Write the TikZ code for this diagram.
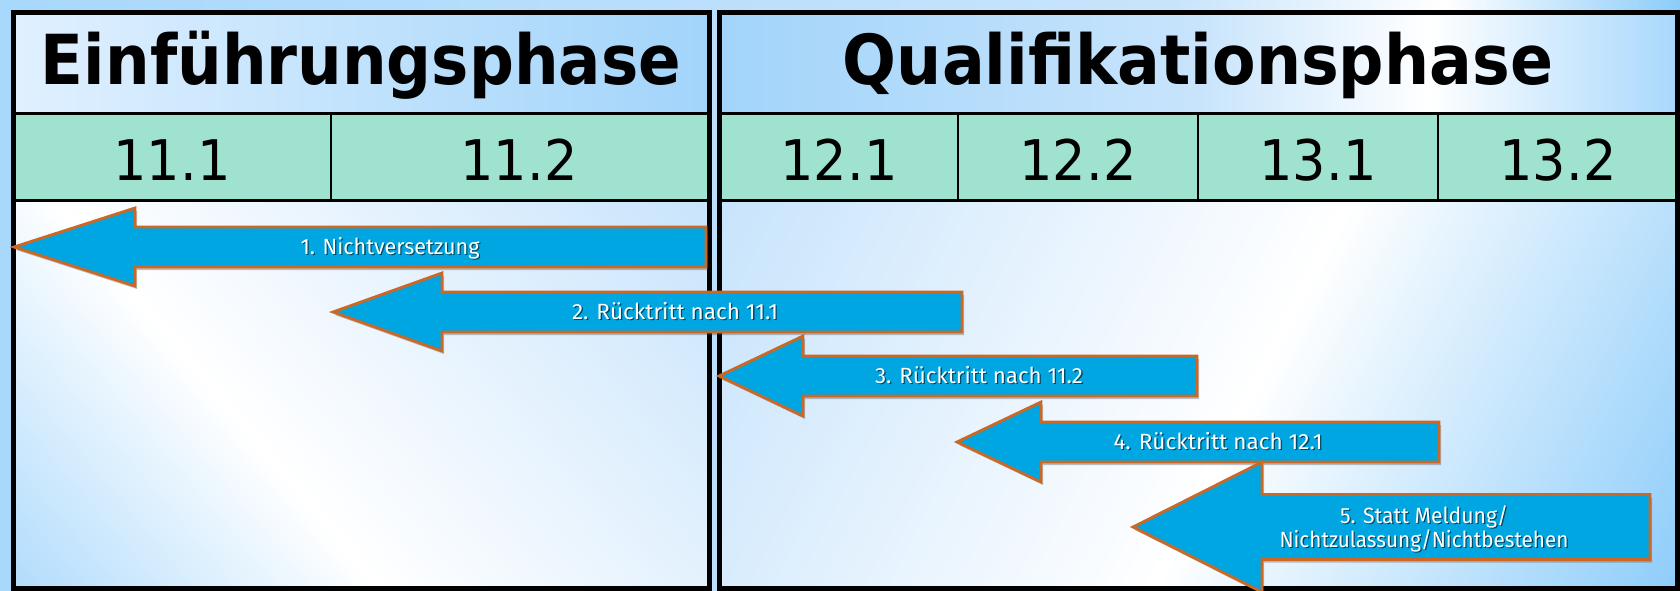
\documentclass[tikz,border=0pt]{standalone}
\usepackage{fontspec}
\usepackage{graphicx}
\usetikzlibrary{shadows}
\newfontfamily\tfont{DejaVu Sans}
\newfontfamily\lfont{Fira Sans}
\definecolor{bgblue}{RGB}{168,216,252}
\definecolor{liteblue}{RGB}{224,240,255}
\definecolor{midblue}{RGB}{200,228,252}
\definecolor{deepblue}{RGB}{140,204,250}
\definecolor{hblue}{RGB}{162,212,250}
\definecolor{semgreen}{RGB}{160,226,208}
\definecolor{arrowblue}{RGB}{0,166,226}
\definecolor{arroworange}{RGB}{204,104,36}
\pgfdeclarehorizontalshading{bgsh}{100bp}{color(0bp)=(bgblue); color(25bp)=(bgblue); color(60bp)=(midblue); color(68bp)=(white); color(75bp)=(deepblue); color(100bp)=(deepblue)}
\pgfdeclarehorizontalshading{lheadsh}{100bp}{color(0bp)=(liteblue); color(25bp)=(liteblue); color(75bp)=(hblue); color(100bp)=(hblue)}
\pgfdeclarehorizontalshading{rheadsh}{100bp}{color(0bp)=(hblue); color(25bp)=(hblue); color(50bp)=(midblue); color(62bp)=(white); color(75bp)=(bgblue); color(100bp)=(bgblue)}
\pgfdeclarehorizontalshading{lbodysh}{100bp}{color(0bp)=(bgblue); color(37bp)=(bgblue); color(50bp)=(white); color(71bp)=(midblue); color(100bp)=(midblue)}
\pgfdeclarehorizontalshading{rbodysh}{100bp}{color(0bp)=(midblue); color(30bp)=(midblue); color(50bp)=(white); color(67bp)=(deepblue); color(100bp)=(deepblue)}
\tikzset{
  ttl/.style={anchor=base, inner sep=0pt, font=\tfont\bfseries\fontsize{69}{72}\selectfont},
  num/.style={anchor=base, inner sep=0pt, font=\tfont\fontsize{56}{60}\selectfont},
  lbl/.style={anchor=base, inner sep=0pt, text=white, font=\lfont\fontsize{22}{24}\selectfont},
  lblshadow/.style={lbl, text=black, opacity=0.55},
  arrowshape/.style={fill=arrowblue, draw=arroworange, line width=2.8pt, line join=miter,
    drop shadow={shadow xshift=2pt, shadow yshift=-3pt, opacity=0.35, fill=black!70}},
  outerline/.style={line width=5pt, black},
  rowline/.style={line width=3pt, black},
  colline/.style={line width=1.5pt, black}
}
% #1 tip x, #2 centre y, #3 head back x, #4 head half height, #5 shaft half height, #6 right end x
\newcommand{\bigarrow}[6]{\filldraw[arrowshape] ({#1},{#2}) -- ({#3},{#2-#4}) -- ({#3},{#2-#5}) -- ({#6},{#2-#5}) -- ({#6},{#2+#5}) -- ({#3},{#2+#5}) -- ({#3},{#2+#4}) -- cycle;}
% #1 name, #2 x, #3 baseline y, #4 width, #5 text
\newcommand{\arrowlabel}[5]{%
  \node[lblshadow] (#1s) at ({#2+1.3},{#3+1.3}) {\resizebox{#4pt}{\height}{#5}};
  \node[lbl] (#1) at (#2,#3) {\resizebox{#4pt}{\height}{#5}};}
\begin{document}
\begin{tikzpicture}[x=1pt,y=-1pt]
\useasboundingbox (0,0) rectangle (1680,591);
\shade[shading=bgsh] (0,0) rectangle (1680,591);
% left panel cells
\shade[shading=lheadsh] (13,13) rectangle (709,114);
\fill[semgreen] (13,114) rectangle (709,200);
\begin{scope}
  \clip (13,200) rectangle (709,588);
  \begin{scope}[transform canvas={rotate around={40:(220,400)}}]
    \shade[shading=lbodysh] (-380,-200) rectangle (820,1000);
  \end{scope}
\end{scope}
% right panel cells
\shade[shading=rheadsh] (719,13) rectangle (1677,114);
\fill[semgreen] (719,114) rectangle (1677,200);
\begin{scope}
  \clip (719,200) rectangle (1677,588);
  \begin{scope}[transform canvas={rotate around={-27:(1250,400)}}]
    \shade[shading=rbodysh] (550,-300) rectangle (1950,1100);
  \end{scope}
\end{scope}
% borders
\draw[rowline] (13,114) -- (709,114) (13,200) -- (709,200);
\draw[rowline] (719,114) -- (1677,114) (719,200) -- (1677,200);
\draw[colline] (331,114) -- (331,200) (958,114) -- (958,200) (1198,114) -- (1198,200) (1438,114) -- (1438,200);
\draw[outerline] (13,13) rectangle (709,588);
\draw[outerline] (719,13) rectangle (1677,588);
% titles
\node[ttl] (einf) at (361,85) {\resizebox{640pt}{\height}{Einführungsphase}};
\node[ttl] (quali) at (1198,85) {\resizebox{710pt}{\height}{Qualifikationsphase}};
% semesters
\node[num] (s111) at (172,180) {\resizebox{117pt}{\height}{11.1}};
\node[num] (s112) at (519,180) {\resizebox{117pt}{\height}{11.2}};
\node[num] (s121) at (839,180) {\resizebox{117pt}{\height}{12.1}};
\node[num] (s122) at (1078,180) {\resizebox{117pt}{\height}{12.2}};
\node[num] (s131) at (1318,180) {\resizebox{117pt}{\height}{13.1}};
\node[num] (s132) at (1558,180) {\resizebox{117pt}{\height}{13.2}};
% arrows
\bigarrow{14}{247}{135}{39}{20}{706}
\bigarrow{333}{312}{442}{39}{20}{962}
\bigarrow{719}{376}{803}{40}{20}{1197}
\bigarrow{957}{442}{1041}{40}{20}{1439}
\bigarrow{1133}{527}{1262}{65}{32.5}{1650}
% labels
\arrowlabel{l1}{390}{254.5}{179}{1. Nichtversetzung}
\arrowlabel{l2}{675}{319.5}{206}{2. Rücktritt nach 11.1}
\arrowlabel{l3}{979}{383.5}{208}{3. Rücktritt nach 11.2}
\arrowlabel{l4}{1218}{449.5}{209}{4. Rücktritt nach 12.1}
\arrowlabel{l5a}{1424}{523}{168}{5. Statt Meldung/}
\arrowlabel{l5b}{1424}{547}{289}{Nichtzulassung/Nichtbestehen}
\end{tikzpicture}
\end{document}
